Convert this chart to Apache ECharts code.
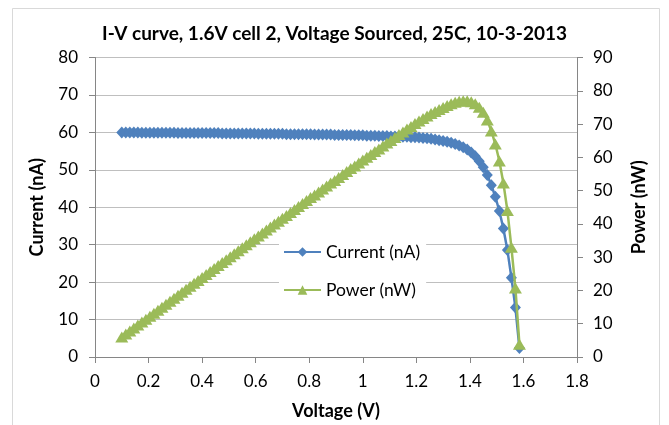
<!DOCTYPE html>
<html>
<head>
<meta charset="utf-8">
<script src="https://cdn.jsdelivr.net/npm/echarts@6/dist/echarts.min.js"></script>
<style>
html,body{margin:0;padding:0;background:#fff;}
#chart{width:669px;height:425px;}
</style>
</head>
<body>
<div id="chart"></div>
<script>
var titleText = 'I-V curve, 1.6V cell 2, Voltage Sourced, 25C, 10-3-2013';
var seriesNames = ['Current (nA)', 'Power (nW)'];
var xTicks = [0, 0.2, 0.4, 0.6, 0.8, 1, 1.2, 1.4, 1.6, 1.8];
var leftTicks = [0, 10, 20, 30, 40, 50, 60, 70, 80];
var rightTicks = [0, 10, 20, 30, 40, 50, 60, 70, 80, 90];

var voltage = [0.1,0.115,0.13,0.145,0.16,0.175,0.19,0.205,0.22,0.235,
0.25,0.265,0.28,0.295,0.31,0.325,0.34,0.355,0.37,0.385,
0.4,0.415,0.43,0.445,0.46,0.475,0.49,0.505,0.52,0.535,
0.55,0.565,0.58,0.595,0.61,0.625,0.64,0.655,0.67,0.685,
0.7,0.715,0.73,0.745,0.76,0.775,0.79,0.805,0.82,0.835,
0.85,0.865,0.88,0.895,0.91,0.925,0.94,0.955,0.97,0.985,
1.0,1.015,1.03,1.045,1.06,1.075,1.09,1.105,1.12,1.135,
1.15,1.165,1.18,1.195,1.21,1.225,1.24,1.255,1.27,1.285,
1.3,1.315,1.33,1.345,1.36,1.375,1.39,1.405,1.42,1.435,
1.45,1.465,1.48,1.495,1.51,1.525,1.54,1.555,1.57,1.585];

var current = [60.0,60.0,60.0,60.0,60.0,59.9,59.9,59.9,59.9,59.9,
59.9,59.9,59.9,59.9,59.8,59.8,59.8,59.8,59.8,59.8,
59.8,59.8,59.8,59.8,59.8,59.7,59.7,59.7,59.7,59.7,
59.7,59.7,59.7,59.7,59.6,59.6,59.6,59.6,59.6,59.6,
59.6,59.5,59.5,59.5,59.5,59.5,59.5,59.5,59.4,59.4,
59.4,59.4,59.4,59.3,59.3,59.3,59.3,59.3,59.2,59.2,
59.2,59.1,59.1,59.1,59.0,59.0,59.0,58.9,58.9,58.9,
58.8,58.8,58.7,58.7,58.6,58.5,58.4,58.3,58.1,57.9,
57.7,57.5,57.2,56.9,56.5,56.0,55.4,54.6,53.6,52.3,
50.7,48.6,45.9,42.8,39.0,34.3,28.6,21.2,13.2,2.4];

var power = [6.00,6.90,7.80,8.70,9.60,10.48,11.38,12.28,13.18,14.08,
14.98,15.87,16.77,17.67,18.54,19.44,20.33,21.23,22.13,23.02,
23.92,24.82,25.71,26.61,27.51,28.36,29.25,30.15,31.04,31.94,
32.84,33.73,34.63,35.52,36.36,37.25,38.14,39.04,39.93,40.83,
41.72,42.54,43.44,44.33,45.22,46.11,47.01,47.90,48.71,49.60,
50.49,51.38,52.27,53.07,53.96,54.85,55.74,56.63,57.42,58.31,
59.20,59.99,60.87,61.76,62.54,63.43,64.31,65.08,65.97,66.85,
67.62,68.50,69.27,70.15,70.91,71.66,72.42,73.17,73.79,74.40,
75.01,75.61,76.08,76.53,76.84,77.00,77.01,76.71,76.11,75.05,
73.52,71.20,67.93,63.99,58.89,52.31,44.04,32.97,20.72,3.80];

var FONT = 'Lato';
var chart = echarts.init(document.getElementById('chart'), null, {renderer: 'canvas'});

var currentData = voltage.map(function (v, i) { return [v, current[i]]; });
var powerData = voltage.map(function (v, i) { return [v, power[i]]; });

var axisLineStyle = {color: '#868686', width: 1};
var gridLineStyle = {color: '#bfbfbf', width: 1};

chart.setOption({
  animation: false,
  backgroundColor: '#ffffff',
  textStyle: {fontFamily: FONT},
  graphic: [{
    type: 'rect', silent: true, z: -10,
    shape: {x: 12.5, y: 8.5, width: 647, height: 430},
    style: {fill: 'none', stroke: '#d9d9d9', lineWidth: 1}
  }],
  title: {
    text: titleText,
    left: 'center', top: 19,
    textStyle: {fontFamily: FONT, fontWeight: 'bold', fontSize: 19, color: '#000'}
  },
  grid: {left: 95, right: 92, top: 57.5, bottom: 67, containLabel: false},
  legend: {
    orient: 'vertical',
    left: 279, top: 237,
    backgroundColor: '#ffffff',
    padding: [6, 6, 6, 4],
    itemWidth: 37, itemHeight: 12,
    itemGap: 20,
    textStyle: {fontFamily: FONT, fontSize: 17.5, color: '#000'},
    data: seriesNames
  },
  xAxis: {
    type: 'value', min: xTicks[0], max: xTicks[xTicks.length - 1], interval: 0.2,
    name: 'Voltage (V)', nameLocation: 'middle', nameGap: 45,
    nameTextStyle: {fontFamily: FONT, fontWeight: 'bold', fontSize: 18, color: '#000'},
    axisLine: {show: true, lineStyle: axisLineStyle},
    axisTick: {show: true, inside: false, length: 6, lineStyle: axisLineStyle},
    axisLabel: {fontFamily: FONT, fontSize: 17, color: '#000', margin: 16,
      formatter: function (v) { return String(Math.round(v * 10) / 10); }},
    splitLine: {show: false}
  },
  yAxis: [{
    type: 'value', min: leftTicks[0], max: leftTicks[leftTicks.length - 1], interval: 10,
    position: 'left',
    name: 'Current (nA)', nameLocation: 'middle', nameGap: 49, nameRotate: 90,
    nameTextStyle: {fontFamily: FONT, fontWeight: 'bold', fontSize: 18, color: '#000'},
    axisLine: {show: true, lineStyle: axisLineStyle},
    axisTick: {show: true, inside: false, length: 6, lineStyle: axisLineStyle},
    axisLabel: {fontFamily: FONT, fontSize: 17, color: '#000', margin: 17},
    splitLine: {show: true, lineStyle: gridLineStyle}
  }, {
    type: 'value', min: rightTicks[0], max: rightTicks[rightTicks.length - 1], interval: 10,
    position: 'right',
    name: 'Power (nW)', nameLocation: 'middle', nameGap: 53, nameRotate: 90,
    nameTextStyle: {fontFamily: FONT, fontWeight: 'bold', fontSize: 18, color: '#000'},
    axisLine: {show: true, lineStyle: axisLineStyle},
    axisTick: {show: true, inside: false, length: 6, lineStyle: axisLineStyle},
    axisLabel: {fontFamily: FONT, fontSize: 17, color: '#000', margin: 16},
    splitLine: {show: false}
  }],
  series: [{
    name: seriesNames[0], type: 'line', yAxisIndex: 0,
    data: currentData,
    symbol: 'diamond', symbolSize: [11, 12],
    lineStyle: {color: '#4f81bd', width: 2.5},
    itemStyle: {color: '#4f81bd', borderWidth: 0},
    z: 2
  }, {
    name: seriesNames[1], type: 'line', yAxisIndex: 1,
    data: powerData,
    symbol: 'triangle', symbolSize: [13, 11],
    lineStyle: {color: '#9bbb59', width: 2.5},
    itemStyle: {color: '#9bbb59', borderWidth: 0},
    z: 3
  }]
});
</script>
</body>
</html>
